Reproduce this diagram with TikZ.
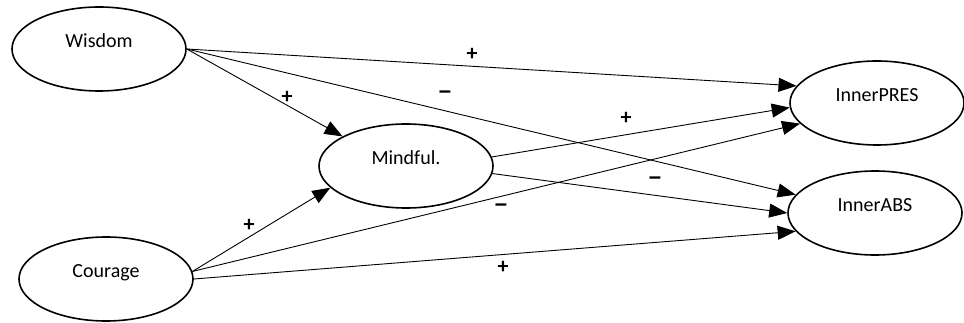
\documentclass[tikz,border=0pt]{standalone}
\usepackage{fontspec}
\setmainfont{Carlito}
\usetikzlibrary{arrows.meta,shapes.geometric}
\newcommand{\negsign}{\scalebox{1.4}[1.2]{–}}
\begin{document}
\begin{tikzpicture}[x=1pt,y=-1pt,
  latent/.style={ellipse,draw,line width=1.6pt,minimum width=174pt,minimum height=84pt,inner sep=0pt,
    font=\fontsize{20}{24}\selectfont,text height=10pt,text depth=13pt},
  pathar/.style={line width=0.9pt,-{Triangle[length=18pt,width=14pt]}},
  sign/.style={font=\fontsize{22}{26}\selectfont\bfseries,inner sep=0pt}]
\useasboundingbox (0,0) rectangle (964,323);
\node[latent] (w) at (99,49) {Wisdom};
\node[latent] (m) at (406,166) {Mindful.};
\node[latent] (c) at (106,279) {Courage};
\node[latent] (ip) at (877,103) {InnerPRES};
\node[latent] (ia) at (875,213) {InnerABS};
\draw[pathar] (w.east) -- (ip.168);
\draw[pathar] (w.east) -- (ia.167);
\draw[pathar] (w.east) -- (m.155);
\draw[pathar] (m.6) -- (ip.183);
\draw[pathar] (m.-5) -- (ia.180);
\draw[pathar] (c.5) -- (m.196);
\draw[pathar] (c.5) -- (ip.195);
\draw[pathar] (c.east) -- (ia.193);
\node[sign] (s1) at (472,54) {+};
\node[sign] (s2) at (287,97) {+};
\node[sign] (s3) at (445,95) {\negsign};
\node[sign] (s4) at (626,118) {+};
\node[sign] (s5) at (655,181) {\negsign};
\node[sign] (s6) at (501,208) {\negsign};
\node[sign] (s7) at (503,267) {+};
\node[sign] (s8) at (249,225) {+};
\end{tikzpicture}
\end{document}
